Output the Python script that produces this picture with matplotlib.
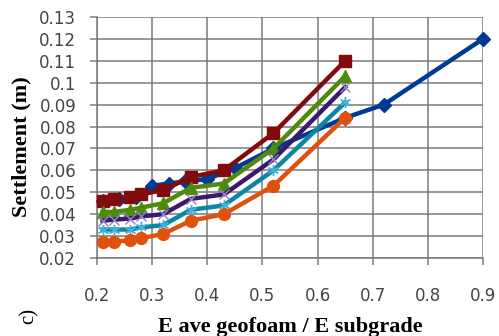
## Settlement against geofoam / subgrade stiffness ratio

import matplotlib
matplotlib.use('Agg')
import matplotlib.pyplot as plt

## =========================================================================
## The data:

Ratio = [0.21, 0.23, 0.26, 0.28, 0.32, 0.37, 0.43, 0.52, 0.65] # E ave geofoam / E subgrade
RatioBlue = [0.21, 0.24, 0.27, 0.30, 0.33, 0.36, 0.40, 0.45, 0.52, 0.65, 0.72, 0.90]

Blue = [0.046, 0.047, 0.048, 0.053, 0.054, 0.055, 0.056, 0.061, 0.070, 0.084, 0.090, 0.120]
Red = [0.046, 0.047, 0.048, 0.049, 0.051, 0.057, 0.060, 0.077, 0.110]
Green = [0.041, 0.041, 0.042, 0.043, 0.045, 0.052, 0.054, 0.070, 0.103]
Purple = [0.037, 0.0375, 0.038, 0.039, 0.040, 0.047, 0.049, 0.065, 0.098]
Teal = [0.033, 0.033, 0.033, 0.034, 0.035, 0.042, 0.044, 0.060, 0.091]
Orange = [0.0275, 0.0275, 0.028, 0.029, 0.031, 0.037, 0.040, 0.053, 0.084]

XTicks = [0.2, 0.3, 0.4, 0.5, 0.6, 0.7, 0.8, 0.9]
XTickLabels = ['0.2', '0.3', '0.4', '0.5', '0.6', '0.7', '0.8', '0.9']
YTicks = [0.02, 0.03, 0.04, 0.05, 0.06, 0.07, 0.08, 0.09, 0.10, 0.11, 0.12, 0.13]
YTickLabels = ['0.02', '0.03', '0.04', '0.05', '0.06', '0.07', '0.08', '0.09',
               '0.1', '0.11', '0.12', '0.13']

## =========================================================================
## The plotting part:

fig = plt.figure(figsize=(4.99, 3.36), dpi=100)
ax = fig.add_axes([0.1944, 0.2321, 0.7736, 0.7173])

lw = 3.2 # line thickness of every series
ms = 8.5 # marker size

# series are drawn in order, the first one ends up underneath
ax.plot(RatioBlue, Blue, color='#003a94', lw=lw, marker='D', ms=7.5, clip_on=False, zorder=3)
ax.plot(Ratio, Red, color='#820a0a', lw=lw, marker='s', ms=ms, clip_on=False, zorder=4)
ax.plot(Ratio, Green, color='#4e8a0c', lw=lw, marker='^', ms=ms + 0.5, clip_on=False, zorder=5)
ax.plot(Ratio, Purple, color='#3a1a70', lw=lw, marker='x', ms=7, mew=1.0,
        mec='#9a80cc', clip_on=False, zorder=6)
ax.plot(Ratio, Teal, color='#0d86a6', lw=lw, marker=(6, 2, 0), ms=8, mew=1.0,
        mec='#45b2da', clip_on=False, zorder=7)
ax.plot(Ratio, Orange, color='#e0520c', lw=lw, marker='o', ms=ms, clip_on=False, zorder=8)

ax.set_xlim(0.2, 0.9)
ax.set_ylim(0.02, 0.13)
ax.set_xticks(XTicks)
ax.set_xticklabels(XTickLabels)
ax.set_yticks(YTicks)
ax.set_yticklabels(YTickLabels)

# gray grid with the ticks sticking out of the plot area
ax.grid(True, color='#7a7a7a', lw=1.1)
ax.set_axisbelow(True)
for side in ['top', 'right']:
    ax.spines[side].set_visible(False)
for side in ['left', 'bottom']:
    ax.spines[side].set_color('#7a7a7a')
    ax.spines[side].set_linewidth(1.1)
ax.tick_params(axis='both', direction='out', length=5, width=1.1, color='#7a7a7a',
               labelsize=12, labelcolor='#454545')
ax.tick_params(axis='x', pad=16)
ax.tick_params(axis='y', pad=10)

fig.text(0.581, 0.012, 'E ave geofoam / E subgrade', ha='center', va='baseline',
         family='Liberation Serif', weight='bold', fontsize=16)
fig.text(0.044, 0.565, 'Settlement (m)', ha='center', va='center', rotation=90,
         family='Liberation Serif', weight='bold', fontsize=16)
fig.text(0.058, 0.06, 'c)', ha='center', va='center', rotation=90,
         family='Liberation Serif', fontsize=15)

fig.savefig('out.png', dpi=100)
